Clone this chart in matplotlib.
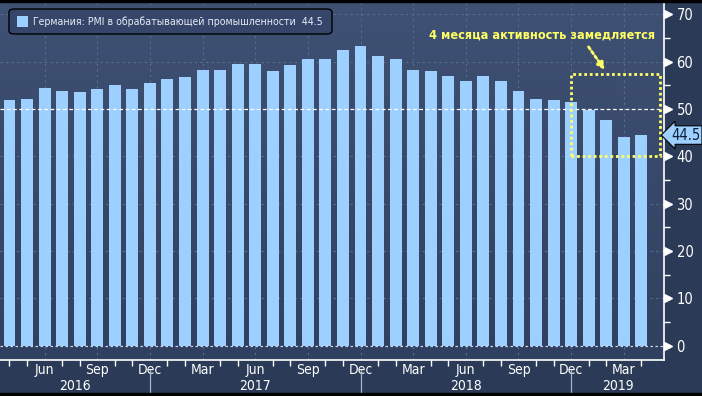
import numpy as np
import matplotlib
matplotlib.use("Agg")
import matplotlib.pyplot as plt
from matplotlib import font_manager
from matplotlib.patches import Rectangle, FancyBboxPatch
import matplotlib.transforms as mtransforms

# narrow font if one is around (Bloomberg charts use a condensed face)
narrow = [f for f in font_manager.fontManager.ttflist
          if ('Condensed' in f.fname or 'Narrow' in f.fname) and 'Bold' not in f.fname
          and 'Oblique' not in f.fname and 'Italic' not in f.fname]
if narrow:
    fp = font_manager.FontProperties(fname=narrow[0].fname)
    plt.rcParams['font.family'] = [fp.get_name(), 'DejaVu Sans']
    plt.rcParams['font.stretch'] = narrow[0].stretch
else:
    plt.rcParams['font.family'] = ['Liberation Sans', 'DejaVu Sans']

# Germany manufacturing PMI, Apr 2016 - Apr 2019
months = ['Apr', 'May', 'Jun', 'Jul', 'Aug', 'Sep', 'Oct', 'Nov', 'Dec',
          'Jan', 'Feb', 'Mar', 'Apr', 'May', 'Jun', 'Jul', 'Aug', 'Sep', 'Oct', 'Nov', 'Dec',
          'Jan', 'Feb', 'Mar', 'Apr', 'May', 'Jun', 'Jul', 'Aug', 'Sep', 'Oct', 'Nov', 'Dec',
          'Jan', 'Feb', 'Mar', 'Apr']
years = [2016] * 9 + [2017] * 12 + [2018] * 12 + [2019] * 4
pmi = [51.8, 52.1, 54.5, 53.8, 53.6, 54.3, 55.0, 54.3, 55.6,
       56.4, 56.8, 58.3, 58.2, 59.5, 59.6, 58.1, 59.3, 60.6, 60.6, 62.5, 63.3,
       61.1, 60.6, 58.2, 58.1, 56.9, 55.9, 56.9, 55.9, 53.7, 52.2, 51.8, 51.5,
       49.7, 47.6, 44.1, 44.5]
label_months = ['Mar', 'Jun', 'Sep', 'Dec']
legend_text = 'Германия: PMI в обрабатывающей промышленности  44.5'
note_text = '4 месяца активность замедляется'

bg_dark = '#2b3a56'
bar_color = '#9dcfff'
grid_color = '#5b6e8e'
yellow = '#ffff66'

fig = plt.figure(figsize=(7.02, 3.96), dpi=100, facecolor=bg_dark)
ax = fig.add_axes([0, 36 / 396, 664 / 702, 358 / 396])
ax.set_facecolor('#37476a')

x = np.arange(len(pmi))
xmin, xmax = -0.54, 37.29
ax.set_xlim(xmin, xmax)
ax.set_ylim(-3, 72.6)

# vertical gradient background
grad = np.linspace(0, 1, 256).reshape(-1, 1)
cmap = matplotlib.colors.LinearSegmentedColormap.from_list('bg', ['#304060', '#3f5174'])
ax.imshow(grad, extent=[0, 1, 0, 1], transform=ax.transAxes, cmap=cmap,
          aspect='auto', origin='lower', zorder=0)

ax.bar(x, pmi, width=0.68, color=bar_color, zorder=2)

# grid
for yv in range(10, 80, 10):
    if yv == 50:
        continue
    ax.axhline(yv, color=grid_color, lw=0.8, ls=(0, (2, 3)), zorder=1)
ax.axhline(50, color='white', lw=0.9, ls=(0, (3, 2)), zorder=3)
ax.axhline(0, color='#c8d4e8', lw=0.9, ls=(0, (2, 2)), zorder=3)
label_idx = [i for i, m in enumerate(months) if m in label_months]
for i in label_idx:
    ax.axvline(i, color=grid_color, lw=0.8, ls=(0, (2, 3)), zorder=1)

# spines
for s in ['top', 'left']:
    ax.spines[s].set_visible(False)
for s in ['bottom', 'right']:
    ax.spines[s].set_color('white')
    ax.spines[s].set_linewidth(1.2)

# x ticks
ax.set_xticks(x, minor=True)
ax.set_xticks(label_idx)
ax.set_xticklabels([months[i] for i in label_idx])
ax.tick_params(axis='x', which='minor', length=4, color='white', width=1)
ax.tick_params(axis='x', which='major', length=0, pad=2, labelsize=10, labelcolor='white')

# y ticks on right
ax.yaxis.tick_right()
ax.set_yticks(range(0, 80, 10))
ax.set_yticks(range(5, 75, 10), minor=True)
ax.tick_params(axis='y', which='major', length=0, pad=9, labelsize=10.5, labelcolor='white')
ax.tick_params(axis='y', which='minor', length=4, direction='out', color='white', width=1, right=True)
ytrans = mtransforms.blended_transform_factory(ax.transAxes, ax.transData)
for yv in range(0, 80, 10):
    ax.plot([1.006], [yv], marker='>', ms=5.5, color='white', transform=ytrans, clip_on=False, zorder=5)

# year labels and separators
xtrans = mtransforms.blended_transform_factory(ax.transData, fig.transFigure)
seps = [i for i, m in enumerate(months) if m == 'Dec']
bounds = [xmin] + seps + [xmax]
for k, yr in enumerate(sorted(set(years))):
    ax.text((bounds[k] + bounds[k + 1]) / 2, 10 / 396, str(yr), transform=xtrans,
            ha='center', va='center', color='white', fontsize=10)
for s in seps:
    ax.plot([s, s], [2 / 396, 26 / 396], color='#aab4c4', lw=0.9, transform=xtrans, clip_on=False)

# legend box
leg = FancyBboxPatch((9 / 702, 1 - 34 / 396), 323 / 702, 25 / 396,
                     boxstyle='round,pad=0,rounding_size=0.008',
                     transform=fig.transFigure, facecolor='#35466a', edgecolor='black', lw=1.0, zorder=6)
fig.patches.append(leg)
fig.patches.append(Rectangle((17 / 702, 1 - 27 / 396), 11 / 702, 11 / 396,
                             transform=fig.transFigure, facecolor=bar_color, edgecolor='none', zorder=7))
legend_label = fig.text(33 / 702, 1 - 21.5 / 396, legend_text, color='#e8edf5', fontsize=9.5,
                        va='center', ha='left', zorder=7)

# annotation
ax.add_patch(Rectangle((32.0, 40), 5.07, 17.4, fill=False, edgecolor=yellow,
                       lw=2, ls=(0, (1, 1)), zorder=6, clip_on=False))
ax.annotate('', xy=(34.0, 57.8), xytext=(32.9, 63.6),
            arrowprops=dict(arrowstyle='-|>', color=yellow, lw=2, ls=(0, (1, 1)),
                            mutation_scale=10), zorder=6)
note = ax.text(36.8, 65.6, note_text, color=yellow, fontsize=10.5, fontweight='bold',
               ha='right', va='center', zorder=6)

# shrink the two long texts to the widths they take in the original
renderer = fig.canvas.get_renderer()
for t, target in [(legend_label, 292), (note, 225)]:
    w = t.get_window_extent(renderer).width
    t.set_fontsize(t.get_fontsize() * target / w)

# last value tag
ax.annotate('44.5', xy=(1.0, pmi[-1]), xycoords=ytrans, xytext=(5, 0), textcoords='offset points',
            ha='left', va='center', fontsize=10.5, color='#10203a',
            bbox=dict(boxstyle='larrow,pad=0.12', facecolor=bar_color, edgecolor='black', lw=0.8),
            annotation_clip=False, zorder=8)

# black frame edges
fig.patches.append(Rectangle((0, 0), 1, 3 / 396, transform=fig.transFigure, color='black', zorder=9))
fig.patches.append(Rectangle((0, 1 - 1.5 / 396), 1, 1.5 / 396, transform=fig.transFigure, color='black', zorder=9))

fig.savefig('out.png', dpi=100, facecolor=bg_dark)
